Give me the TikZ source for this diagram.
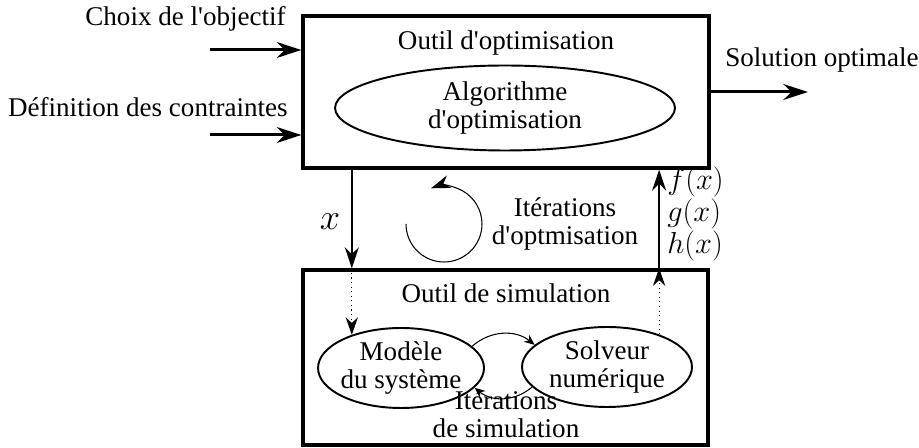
\documentclass[tikz,border=0pt]{standalone}
\usepackage{fontspec}
\setmainfont{Liberation Serif}
\usetikzlibrary{shapes.geometric,arrows.meta}
\newcommand{\apos}{\textquotesingle}

\begin{document}
\begin{tikzpicture}[x=0.02cm,y=-0.02cm,
    font=\fontsize{15.4}{16}\selectfont,
    cadre/.style={draw,line width=1.9pt},
    bulle/.style={draw,ellipse,line width=1.1pt,align=center,inner sep=0pt},
    etiq/.style={inner sep=0pt},
    grosse/.style={-{Stealth[length=14pt,width=9pt]},line width=1.7pt},
    moyenne/.style={-{Stealth[length=12pt,width=8pt]},line width=0.8pt},
    pointille/.style={-{Stealth[length=10pt,width=7pt]},line width=0.6pt,dotted},
    fine/.style={-{Stealth[length=11pt,width=7.5pt]},line width=0.6pt},
    petite/.style={-{Stealth[length=6pt,width=5pt]},line width=0.6pt}]
    \useasboundingbox (0,0) rectangle (919,448);
    % outil d'optimisation
    \node[cadre,minimum width=8.12cm,minimum height=3.04cm] (opt) at (506,92) {};
    \node[etiq,anchor=base] (optT) at (506,50) {Outil d\apos optimisation};
    \node[bulle,minimum width=6.8cm,minimum height=1.7cm] (algo) at (505,108) {Algorithme\\d\apos optimisation};
    % outil de simulation
    \node[cadre,minimum width=8.1cm,minimum height=3.5cm] (sim) at (505.5,357.5) {};
    \node[etiq,anchor=base] (simT) at (506,303) {Outil de simulation};
    \node[bulle,inner xsep=-2pt,minimum width=3.32cm,minimum height=1.6cm] (mod) at (401,368) {Modèle\\du système};
    \node[bulle,minimum width=3.4cm,minimum height=1.6cm] (sol) at (607,367) {Solveur\\numérique};
    % entrees et sortie
    \coordinate (e1) at (210,50);
    \coordinate (e2) at (210,135);
    \coordinate (s1) at (808,92);
    \draw[grosse] (e1) -- (e1 -| opt.west);
    \draw[grosse] (e2) -- (e2 -| opt.west);
    \draw[grosse] (opt.east) -- (s1);
    \node[etiq,anchor=base east] (choix) at (286,26) {Choix de l\apos objectif};
    \node[etiq,anchor=base east] (def) at (288,117) {Définition des contraintes};
    \node[etiq,anchor=base west] (solopt) at (725,67) {Solution optimale};
    % echanges entre les outils
    \draw[moyenne] (opt.south -| mod.146) -- (sim.north -| mod.146);
    \draw[pointille] (sim.north -| mod.146) -- (mod.146);
    \draw[pointille] (sol.32) -- (sim.north -| sol.32);
    \draw[moyenne] (sim.north -| sol.32) -- (opt.south -| sol.32);
    \node[etiq,anchor=base,font=\fontsize{22}{24}\selectfont] (xlab) at (330,230) {$x$};
    \node[etiq,anchor=west,align=left,font=\fontsize{16.5}{16}\selectfont] (fgh) at (667,214) {$f(x)$\\$g(x)$\\$h(x)$};
    % boucles
    \coordinate (boucle) at (444,224);
    \draw[fine] ([xshift=-0.76cm]boucle) arc[start angle=180,end angle=470,radius=0.76cm];
    \node[etiq,align=center] (itopt) at (565,224) {Itérations\\d\apos optmisation};
    \draw[petite] (mod.17) to[bend left=40] (sol.163);
    \draw[petite] (sol.195) to[bend left=40] (mod.345);
    \node[etiq,align=center] (itsim) at (506,414) {Itérations\\de simulation};
\end{tikzpicture}
\end{document}
